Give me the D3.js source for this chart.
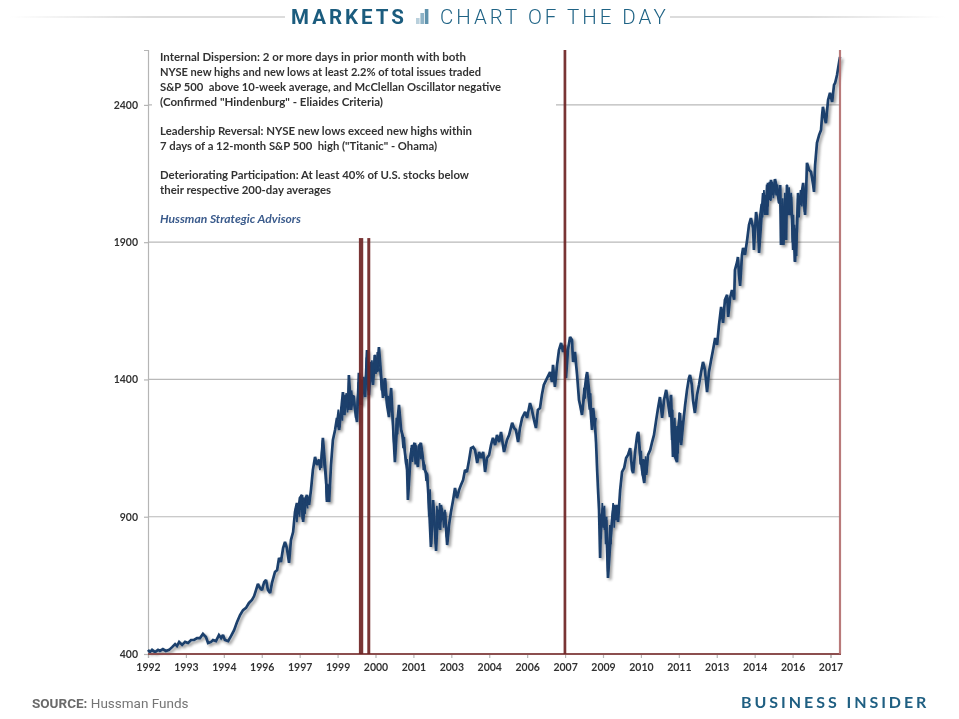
<!DOCTYPE html>
<html><head><meta charset="utf-8">
<script src="https://cdnjs.cloudflare.com/ajax/libs/d3/7.8.5/d3.min.js"></script>
<style>html,body{margin:0;padding:0;background:#fff;overflow:hidden}svg{display:block}text{white-space:pre}</style>
</head><body><svg id="c" width="959" height="719"></svg>
<script>
const years=[
1992.00,1992.07,1992.15,1992.26,1992.37,1992.44,1992.55,1992.66,1992.78,1992.89,
1993.00,1993.07,1993.15,1993.26,1993.37,1993.48,1993.59,1993.70,1993.81,1993.92,
1994.03,1994.14,1994.22,1994.33,1994.40,1994.51,1994.62,1994.70,1994.77,1994.84,1994.96,
1995.07,1995.18,1995.29,1995.40,1995.51,1995.62,1995.73,1995.84,1995.92,1995.99,
1996.06,1996.14,1996.21,1996.29,1996.36,1996.43,1996.51,1996.58,1996.69,1996.77,1996.84,1996.91,1996.99,
1997.06,1997.13,1997.21,1997.28,1997.36,1997.43,1997.50,1997.54,1997.61,1997.69,1997.73,1997.80,1997.87,1997.95,
1998.02,1998.09,1998.17,1998.24,1998.32,1998.39,1998.46,1998.54,1998.58,1998.61,1998.65,1998.69,1998.76,1998.83,1998.91,1998.98,
1999.06,1999.13,1999.20,1999.24,1999.31,1999.39,1999.42,1999.50,1999.57,1999.65,1999.72,1999.79,1999.87,1999.94,
2000.02,2000.09,2000.16,2000.24,2000.31,2000.38,2000.46,2000.53,2000.61,2000.68,2000.75,2000.83,2000.90,2000.98,
2001.05,2001.12,2001.20,2001.27,2001.35,2001.42,2001.50,2001.57,2001.60,2001.68,2001.75,2001.83,2001.86,2001.94,2001.97,
2002.01,2002.08,2002.16,2002.23,2002.31,2002.38,2002.45,2002.53,2002.60,2002.64,2002.71,2002.79,2002.82,2002.90,2002.97,
2003.05,2003.12,2003.19,2003.27,2003.34,2003.41,2003.49,2003.56,2003.64,2003.71,2003.78,2003.86,2003.93,
2004.01,2004.08,2004.16,2004.23,2004.30,2004.38,2004.45,2004.52,2004.60,2004.67,2004.74,2004.82,2004.89,2004.97,
2005.04,2005.11,2005.15,2005.26,2005.34,2005.45,2005.52,2005.59,2005.67,2005.74,2005.82,2005.93,
2006.00,2006.11,2006.18,2006.26,2006.33,2006.40,2006.48,2006.55,2006.62,2006.74,2006.85,2006.92,2006.96,
2007.03,2007.11,2007.18,2007.26,2007.33,2007.40,2007.44,2007.51,2007.59,2007.66,2007.70,2007.77,2007.85,2007.92,2007.96,
2008.03,2008.11,2008.18,2008.22,2008.29,2008.36,2008.40,2008.44,2008.51,2008.55,2008.59,2008.62,2008.66,2008.70,2008.73,2008.81,2008.88,2008.92,2008.96,2008.99,
2009.07,2009.14,2009.21,2009.29,2009.32,2009.36,2009.44,2009.51,2009.59,2009.66,2009.73,2009.81,2009.88,2009.92,
2010.00,2010.07,2010.11,2010.18,2010.25,2010.33,2010.36,2010.40,2010.47,2010.55,2010.62,2010.69,2010.77,2010.84,2010.91,2010.99,
2011.06,2011.14,2011.21,2011.28,2011.32,2011.36,2011.39,2011.43,2011.47,2011.54,2011.58,2011.65,2011.69,2011.76,2011.84,2011.91,2011.98,
2012.02,2012.09,2012.13,2012.20,2012.28,2012.35,2012.43,2012.50,2012.57,2012.65,2012.72,2012.80,2012.87,2012.95,
2013.02,2013.09,2013.17,2013.24,2013.31,2013.39,2013.43,2013.50,2013.57,2013.65,2013.68,2013.76,2013.79,2013.83,2013.87,2013.94,2013.98,
2014.05,2014.13,2014.20,2014.27,2014.35,2014.38,2014.46,2014.53,2014.57,2014.64,2014.72,2014.79,2014.83,2014.87,2014.90,2014.98,
2015.01,2015.09,2015.16,2015.24,2015.31,2015.35,2015.38,2015.42,2015.46,2015.53,2015.57,2015.60,2015.68,2015.75,2015.79,2015.83,2015.86,2015.90,2015.94,2015.97,
2016.01,2016.08,2016.20,2016.23,2016.27,2016.31,2016.34,2016.42,2016.49,2016.57,2016.60,2016.64,2016.71,2016.79,2016.86,2016.90,2016.93,
2017.01,2017.04,2017.12,2017.19,2017.27,2017.34,2017.38,2017.45,2017.53,2017.56];
const closes=[
415,407,415,407,415,411,418,411,415,425,
436,429,444,433,444,440,451,451,458,458,
473,462,440,444,451,447,469,458,469,451,447,
466,487,517,542,560,568,586,597,611,633,
655,640,633,662,670,633,622,659,699,706,750,735,786,
808,786,732,815,844,917,950,910,968,979,881,961,979,943,
997,1070,1118,1089,1107,1078,1187,1089,1034,954,1016,954,1089,1180,1216,1260,
1216,1282,1354,1271,1343,1289,1416,1289,1343,1289,1245,1424,1307,1398,
1336,1507,1343,1464,1380,1489,1427,1518,1416,1333,1405,1307,1263,1369,
1234,1099,1234,1307,1216,1191,1125,1070,961,1089,1161,1143,1169,1099,1081,
1154,1169,1107,1070,1052,943,790,961,852,775,925,852,943,888,917,
797,870,917,961,1005,968,997,1016,1034,1070,1063,1107,1150,
1154,1143,1096,1136,1114,1136,1063,1114,1125,1161,1187,1161,1198,1172,
1209,1161,1136,1180,1198,1242,1223,1216,1172,1223,1260,1282,
1260,1314,1289,1252,1223,1289,1296,1344,1380,1405,1427,1391,1453,
1373,1453,1507,1533,1500,1526,1405,1507,1555,1544,1464,1500,1416,1325,1307,
1271,1344,1405,1427,1362,1271,1216,1296,1234,1169,1070,1005,925,750,888,932,852,888,779,677,
797,888,943,888,943,881,997,1063,1078,1114,1125,1150,1070,1059,
1143,1198,1209,1125,1070,1023,1107,1052,1125,1143,1172,1198,1252,1296,1336,1260,
1325,1362,1314,1263,1344,1216,1118,1234,1118,1099,1216,1278,1161,1234,1307,1362,1405,
1416,1380,1325,1278,1344,1380,1427,1464,1435,1354,1427,1471,1507,1551,
1526,1598,1664,1606,1690,1708,1628,1697,1726,1690,1799,1828,1846,1781,1741,1854,1879,
1854,1908,1963,1988,1952,1872,2010,1963,1861,1963,2079,1999,2072,1999,2116,2054,
2127,2072,2130,2090,2043,2108,1890,1999,1890,1992,1908,2108,1999,2065,1981,1872,1963,1828,1908,1945,
2079,2036,2116,2054,1999,2090,2189,2163,2156,2108,2083,2181,2262,2291,2309,2364,2393,
2345,2334,2418,2444,2411,2473,2480,2509,2557,2575];
const swingYears=[
1997.45,1997.50,1997.55,1997.60,1997.65,1997.70,1997.75,1997.80,1997.85,1997.90,null,
1998.30,1998.35,1998.40,1998.45,1998.50,1998.55,1998.60,1998.64,1998.68,null,
1998.98,1999.03,1999.08,1999.13,1999.18,1999.22,1999.27,1999.32,1999.37,1999.42,1999.47,1999.52,1999.57,1999.62,1999.67,1999.72,1999.77,1999.82,1999.87,1999.92,1999.97,
2000.02,2000.07,2000.12,2000.17,2000.22,2000.27,2000.32,2000.37,2000.42,2000.47,2000.52,2000.57,2000.62,2000.67,2000.72,2000.77,2000.82,2000.87,2000.92,2000.97,
2001.02,2001.07,2001.12,2001.17,2001.22,2001.27,2001.32,2001.37,2001.42,2001.47,2001.52,2001.57,2001.62,2001.67,2001.72,2001.77,2001.82,2001.87,2001.92,2001.97,
2002.02,2002.07,2002.12,2002.17,2002.22,2002.27,2002.32,2002.37,2002.42,2002.47,2002.52,2002.57,2002.62,2002.67,2002.72,2002.77,2002.82,2002.87,2002.92,2002.97,
2003.02,2003.07,2003.12,null,
2008.05,2008.10,2008.15,2008.20,2008.25,2008.30,2008.35,2008.40,2008.45,2008.50,2008.55,null,
2008.74,2008.78,2008.82,2008.86,2008.90,2008.94,2008.98,2009.02,2009.06,2009.10,2009.14,2009.18,2009.22,2009.26,2009.30,null,
2010.14,2010.18,2010.22,2010.26,2010.30,2010.34,2010.38,2010.42,null,
2011.30,2011.34,2011.38,2011.42,2011.46,2011.50,2011.54,2011.58,2011.62,2011.66,2011.70,null,
2014.50,2014.55,2014.60,2014.65,2014.70,2014.75,2014.80,2014.85,2014.90,2014.95,
2015.00,2015.05,2015.10,2015.15,2015.20,2015.25,2015.30,2015.35,2015.40,2015.44,2015.48,2015.52,2015.56,2015.60,2015.64,2015.68,2015.72,2015.76,2015.80,2015.84,2015.88,2015.92,2015.96,
2016.00,2016.05,2016.10,2016.15,2016.20,2016.25];
const swingCloses=[
930,880,950,900,980,890,970,910,975,930,null,
1110,1070,1120,1180,1090,1050,960,1020,960,null,
1250,1290,1225,1300,1250,1345,1270,1350,1280,1400,1290,1360,1310,1340,1260,1290,1390,1310,1400,1330,1410,
1350,1480,1360,1450,1390,1470,1400,1490,1420,1500,1430,1440,1360,1400,1340,1400,1310,1340,1280,1350,
1280,1180,1120,1260,1200,1300,1230,1210,1150,1190,1090,1110,1000,1110,1150,1100,1170,1090,1160,1100,
1165,1110,1150,1070,1090,1030,1060,900,1000,800,950,880,800,940,870,950,880,930,860,925,
830,810,880,null,
1290,1370,1330,1420,1340,1290,1350,1230,1290,1220,1260,null,
820,950,860,940,800,900,700,800,870,800,900,950,860,940,890,null,
1160,1090,1140,1050,1110,1030,1120,1060,null,
1340,1180,1290,1130,1260,1110,1230,1130,1280,1170,1250,null,
1990,1900,2000,2040,1990,2090,2010,2110,2030,2120,
2050,2120,2060,2130,2070,2110,2040,2100,1900,2060,1890,2080,1930,2110,2000,2100,2010,2080,1900,2000,1830,1950,1850,
2060,1990,2090,2030,2110,2010];
const tickLabels=["1992","1993","1994","1996","1997","1999","2000","2001","2003","2004","2006","2007","2009","2010","2011","2013","2014","2016","2017"];
const priceTicks=[400,900,1400,1900,2400];
const signalStart=[1999.79,2000.10,2007.35,2017.52];
const signalEnd=[1999.95,2000.21,2007.45,2017.60];
const signalTop=[1915,1915,2600,2600];
const signalStrength=["strong","strong","strong","faint"];
const noteLines=[
"Internal Dispersion: 2 or more days in prior month with both",
"NYSE new highs and new lows at least 2.2% of total issues traded",
"S&P 500  above 10-week average, and McClellan Oscillator negative",
"(Confirmed \"Hindenburg\" - Eliaides Criteria)",
"",
"Leadership Reversal: NYSE new lows exceed new highs within",
"7 days of a 12-month S&P 500  high (\"Titanic\" - Ohama)",
"",
"Deteriorating Participation: At least 40% of U.S. stocks below",
"their respective 200-day averages",
"",
"Hussman Strategic Advisors"];
const noteWidths=[306,321,341,223,0,312,277,0,309,171,0,141];

const svg=d3.select("#c");
const defs=svg.append("defs");
const soft=defs.append("filter").attr("id","soft").attr("x","-5%").attr("y","-5%").attr("width","110%").attr("height","110%");
soft.append("feGaussianBlur").attr("stdDeviation",0.4);
const sh=defs.append("filter").attr("id","shadow").attr("filterUnits","userSpaceOnUse").attr("x",100).attr("y",20).attr("width",800).attr("height",680);
sh.append("feGaussianBlur").attr("in","SourceAlpha").attr("stdDeviation",1.4).attr("result","b");
sh.append("feOffset").attr("in","b").attr("dx",2.4).attr("dy",2.4).attr("result","o");
sh.append("feComponentTransfer").attr("in","o").attr("result","o2").append("feFuncA").attr("type","linear").attr("slope",0.42);
sh.append("feGaussianBlur").attr("in","SourceGraphic").attr("stdDeviation",0.4).attr("result","s");
const m=sh.append("feMerge");m.append("feMergeNode").attr("in","o2");m.append("feMergeNode").attr("in","s");
function grad(id,stops){const g=defs.append("linearGradient").attr("id",id);stops.forEach(s=>g.append("stop").attr("offset",s[0]).attr("stop-color","#dcdcdc").attr("stop-opacity",s[1]));}
grad("fadeL",[[0,0],[.5,1],[1,1]]);grad("fadeR",[[0,1],[.5,1],[1,0]]);

const x=d3.scaleLinear().domain([1992,2017.56]).range([148,840]);
const y=d3.scaleLinear().domain([400,2600]).range([654,50]);
const xTick=d3.scalePoint().domain(tickLabels).range([148,830.5]);
const chart=svg.append("g");

const grid=chart.append("g").attr("filter","url(#soft)");
grid.selectAll("line").data(priceTicks.slice(1)).join("line")
 .attr("x1",148).attr("x2",840).attr("y1",d=>y(d)).attr("y2",d=>y(d)).attr("stroke","#b9b9b9").attr("stroke-width",1.2);

const yAxis=d3.axisLeft(y).tickValues(priceTicks).tickFormat(d3.format("d")).tickSize(4).tickPadding(6);
const xAxis=d3.axisBottom(xTick).tickSize(4).tickPadding(6);
const gy=chart.append("g").attr("transform","translate(148,0)").attr("filter","url(#soft)").call(yAxis);
const gx=chart.append("g").attr("transform","translate(0,654)").attr("filter","url(#soft)").call(xAxis);
[gy,gx].forEach(g=>{g.selectAll("path,line").attr("stroke","#b5b5b5").attr("stroke-width",1.2);
 g.selectAll("text").attr("font-family","Lato").attr("font-weight",700).attr("font-size",10.5).attr("fill","#333");});

const priceG=chart.append("g").attr("filter","url(#shadow)");
const line=d3.line().x((d,i)=>x(years[i])).y(d=>y(d));
priceG.append("path").datum(closes).attr("d",line).attr("fill","none").attr("stroke","#1b3f6c").attr("stroke-width",2.7).attr("stroke-linejoin","miter").attr("stroke-miterlimit",2);
const swingLine=d3.line().defined(d=>d!==null).x((d,i)=>x(swingYears[i])).y(d=>y(d));
priceG.append("path").datum(swingCloses).attr("d",swingLine).attr("fill","none").attr("stroke","#1b3f6c").attr("stroke-width",1.7).attr("stroke-linejoin","miter").attr("stroke-miterlimit",2);

const sig=chart.append("g").attr("filter","url(#soft)");
sig.append("line").attr("x1",148).attr("x2",841).attr("y1",y(400)).attr("y2",y(400)).attr("stroke","#8c4f4f").attr("stroke-width",2);
signalStart.forEach((s,i)=>{
 sig.append("rect").attr("x",x(s)).attr("width",x(signalEnd[i])-x(s)).attr("y",y(signalTop[i])).attr("height",y(400)-y(signalTop[i]))
  .attr("fill",signalStrength[i]=="strong"?"#6e2525":"#b36f6f").attr("fill-opacity",.92);
});

const note=chart.append("g");
note.append("rect").attr("x",152).attr("y",51).attr("width",404).attr("height",186).attr("fill","#fff");
note.selectAll("text").data(noteLines).join("text").attr("x",160).attr("y",(d,i)=>61.4+i*14.72)
 .attr("font-family","Lato").attr("font-size",11.3).attr("font-weight",700)
 .attr("font-style",d=>d.startsWith("Hussman")?"italic":"normal")
 .attr("textLength",(d,i)=>noteWidths[i]||null).attr("lengthAdjust","spacingAndGlyphs")
 .attr("fill",d=>d.startsWith("Hussman")?"#3b5b8c":"#333").attr("filter","url(#soft)").text(d=>d);

const head=svg.append("g");
head.append("rect").attr("x",10).attr("y",16).attr("width",275).attr("height",2).attr("fill","url(#fadeL)");
head.append("rect").attr("x",670).attr("y",16).attr("width",275).attr("height",2).attr("fill","url(#fadeR)");
head.append("text").attr("x",291).attr("y",24).attr("font-family","Roboto").attr("font-weight",700).attr("font-size",20.5).attr("letter-spacing",3).attr("fill","#1b5c7e").text("MARKETS");
const iconBars=[[416,18,"#b9d0dc"],[420.4,13,"#8fb3c6"],[424.8,9,"#5f92ac"]];
head.selectAll(".ib").data(iconBars).join("rect").attr("class","ib").attr("x",d=>d[0]).attr("y",d=>d[1]).attr("width",3.6).attr("height",d=>24-d[1]).attr("fill",d=>d[2]);
head.append("text").attr("x",440).attr("y",24).attr("font-family","Roboto").attr("font-weight",300).attr("font-size",20.5).attr("letter-spacing",3).attr("fill","#1f6385").text("CHART OF THE DAY");

const src=svg.append("text").attr("x",32).attr("y",708).attr("font-family","Roboto").attr("font-size",13.5).attr("fill","#757575");
src.append("tspan").attr("font-weight",700).attr("fill","#6a6a6a").text("SOURCE: ");
src.append("tspan").text("Hussman Funds");
svg.append("text").attr("x",741).attr("y",708).attr("font-family","Lato").attr("font-weight",700).attr("font-size",16).attr("letter-spacing",2.95).attr("fill","#1f5f82").text("BUSINESS INSIDER");
</script></body></html>
